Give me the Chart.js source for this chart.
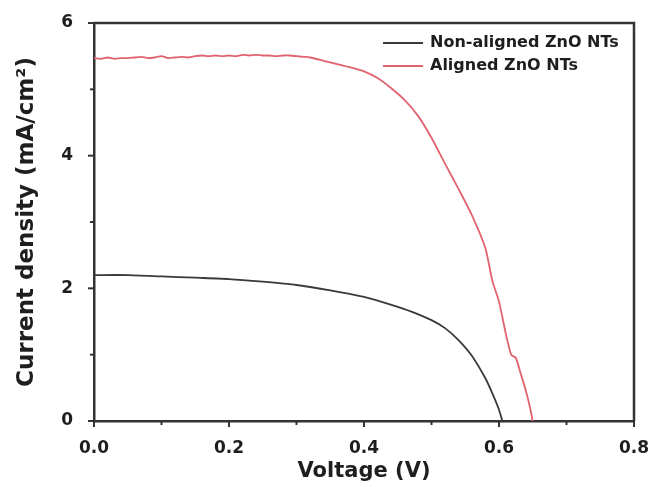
<!DOCTYPE html>
<html>
<head>
<meta charset="utf-8">
<script src="https://cdn.jsdelivr.net/npm/chart.js@4/dist/chart.umd.min.js"></script>
<style>
  html, body { margin: 0; padding: 0; background: #fff; }
  #wrap { width: 649px; height: 487px; }
</style>
</head>
<body>
<div id="wrap"><canvas id="jv"></canvas></div>
<script>
// J-V curves of the two ZnO nanotube cells
const nonAlignedV = [0, 0.05, 0.1, 0.15, 0.2, 0.25, 0.3, 0.35, 0.4, 0.425, 0.45, 0.475, 0.5, 0.52, 0.54, 0.56, 0.58, 0.59, 0.6, 0.605];
const nonAlignedJ = [2.20, 2.20, 2.18, 2.16, 2.14, 2.10, 2.05, 1.97, 1.87, 1.80, 1.72, 1.63, 1.52, 1.40, 1.22, 0.98, 0.64, 0.42, 0.17, 0.0];

const alignedV = [0, 0.01, 0.02, 0.03, 0.04, 0.05, 0.06, 0.07, 0.08, 0.09, 0.10, 0.11, 0.12, 0.13, 0.14, 0.15,
  0.16, 0.17, 0.18, 0.19, 0.20, 0.21, 0.22, 0.23, 0.24, 0.25, 0.26, 0.27, 0.28, 0.29, 0.30, 0.31,
  0.32, 0.34, 0.36, 0.38, 0.40, 0.42, 0.44, 0.46, 0.48, 0.50, 0.52, 0.54, 0.56, 0.58, 0.59, 0.60,
  0.61, 0.618, 0.625, 0.632, 0.64, 0.646, 0.65];
const alignedJ = [5.47, 5.46, 5.48, 5.46, 5.47, 5.47, 5.48, 5.49, 5.47, 5.48, 5.50, 5.47, 5.48, 5.49, 5.48, 5.50,
  5.51, 5.50, 5.51, 5.50, 5.51, 5.50, 5.52, 5.51, 5.52, 5.51, 5.51, 5.50, 5.51, 5.51, 5.50, 5.49,
  5.48, 5.43, 5.38, 5.33, 5.27, 5.17, 5.02, 4.84, 4.60, 4.27, 3.88, 3.50, 3.10, 2.60, 2.12, 1.80,
  1.32, 1.00, 0.95, 0.72, 0.45, 0.20, 0.0];

const seriesNames = ['Non-aligned ZnO NTs', 'Aligned ZnO NTs'];
const seriesColors = ['#3a3a3a', '#e0636f'];

const xMajor = [0, 0.2, 0.4, 0.6, 0.8];
const xMinor = [0.1, 0.3, 0.5, 0.7];
const yMajor = [0, 2, 4, 6];
const yMinor = [1, 3, 5];

const FONT = 'DejaVu Sans';
const INK = '#1e1e1e';
const AXIS = '#333';

function toPoints(xs, ys) {
  return xs.map((v, i) => ({ x: v, y: ys[i] }));
}

// frame, outward ticks and the legend
const decor = {
  id: 'decor',
  afterDraw(chart) {
    const ctx = chart.ctx;
    const a = chart.chartArea;
    const xs = chart.scales.x, ys = chart.scales.y;
    ctx.save();
    ctx.strokeStyle = AXIS;
    ctx.lineWidth = 2.5;
    ctx.beginPath();
    ctx.moveTo(a.left, a.top);
    ctx.lineTo(a.right, a.top);
    ctx.lineTo(a.right, a.bottom);
    ctx.stroke();

    ctx.lineWidth = 2;
    const tickX = (vals, len) => vals.forEach(v => {
      const px = xs.getPixelForValue(v);
      ctx.beginPath(); ctx.moveTo(px, a.bottom); ctx.lineTo(px, a.bottom + len); ctx.stroke();
    });
    const tickY = (vals, len) => vals.forEach(v => {
      const py = ys.getPixelForValue(v);
      ctx.beginPath(); ctx.moveTo(a.left, py); ctx.lineTo(a.left - len, py); ctx.stroke();
    });
    tickX(xMajor, 6); tickX(xMinor, 4);
    tickY(yMajor, 6); tickY(yMinor, 4);

    // legend
    ctx.font = 'bold 16px "' + FONT + '"';
    ctx.textBaseline = 'middle';
    ctx.textAlign = 'left';
    seriesNames.forEach((name, i) => {
      const y = a.top + 20 + i * 23;
      ctx.strokeStyle = seriesColors[i];
      ctx.lineWidth = 2;
      ctx.beginPath(); ctx.moveTo(a.right - 251, y); ctx.lineTo(a.right - 211, y); ctx.stroke();
      ctx.fillStyle = INK;
      ctx.fillText(name, a.right - 204, y);
    });
    ctx.restore();
  }
};

new Chart(document.getElementById('jv'), {
  type: 'scatter',
  data: {
    datasets: [
      {
        label: seriesNames[0],
        data: toPoints(nonAlignedV, nonAlignedJ),
        showLine: true,
        borderColor: seriesColors[0],
        borderWidth: 1.8,
        pointRadius: 0,
        tension: 0.2
      },
      {
        label: seriesNames[1],
        data: toPoints(alignedV, alignedJ),
        showLine: true,
        borderColor: seriesColors[1],
        borderWidth: 1.8,
        pointRadius: 0,
        tension: 0.2
      }
    ]
  },
  options: {
    responsive: true,
    maintainAspectRatio: false,
    animation: false,
    layout: { padding: { top: 23, right: 15, left: 0, bottom: 0 } },
    plugins: { legend: { display: false }, tooltip: { enabled: false } },
    scales: {
      x: {
        type: 'linear',
        min: 0, max: 0.8,
        afterFit(s) { s.height = 66; s.paddingLeft = 0; s.paddingRight = 0; },
        border: { color: AXIS, width: 2.5 },
        grid: { display: false },
        ticks: {
          stepSize: 0.2,
          padding: 9,
          color: INK,
          font: { family: FONT, size: 17, weight: 'bold' },
          callback: v => v.toFixed(1)
        },
        title: {
          display: true,
          text: 'Voltage (V)',
          color: INK,
          font: { family: FONT, size: 21, weight: 'bold', lineHeight: 1 },
          padding: { top: 0, bottom: 5 }
        }
      },
      y: {
        type: 'linear',
        min: 0, max: 6,
        afterFit(s) { s.width = 94; s.paddingTop = 0; s.paddingBottom = 0; },
        border: { color: AXIS, width: 2.5 },
        grid: { display: false },
        ticks: {
          stepSize: 2,
          padding: 13,
          color: INK,
          font: { family: FONT, size: 17, weight: 'bold' }
        },
        title: {
          display: true,
          text: 'Current density (mA/cm²)',
          color: INK,
          font: { family: FONT, size: 23, weight: 'bold', lineHeight: 1 },
          padding: { top: 16, bottom: 0 }
        }
      }
    }
  },
  plugins: [decor]
});
</script>
</body>
</html>
